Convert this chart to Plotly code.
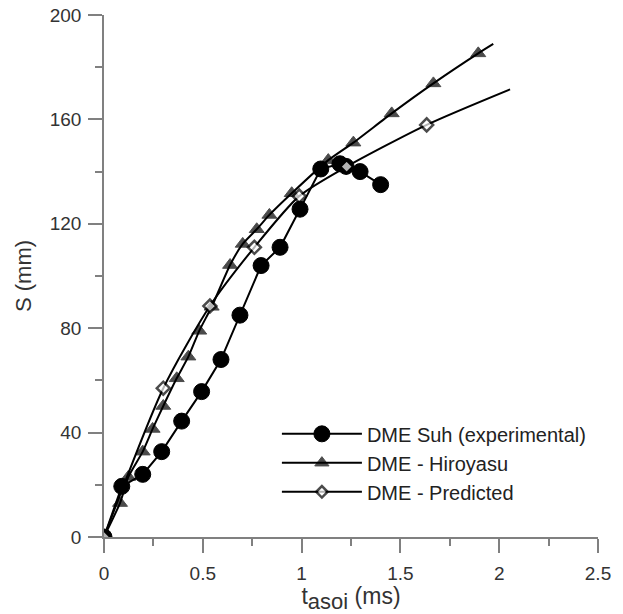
import plotly.graph_objects as go

# Data
suh_x = [0, 0.09, 0.196, 0.292, 0.393, 0.494, 0.592, 0.688, 0.795, 0.891, 0.992, 1.097, 1.194, 1.225, 1.296, 1.40]
suh_y = [0, 19.4, 24.0, 32.7, 44.4, 55.7, 68.0, 85.0, 104.0, 111.0, 125.6, 141.0, 143.0, 142.0, 140.0, 135.0]

hiro_x = [0, 0.081, 0.123, 0.196, 0.246, 0.30, 0.368, 0.427, 0.482, 0.545, 0.638, 0.702, 0.773, 0.837,
          0.95, 1.135, 1.262, 1.456, 1.667, 1.894, 1.97]
hiro_y = [0, 13.0, 23.0, 32.7, 41.4, 50.2, 60.8, 69.1, 79.0, 88.2, 104.2, 112.3, 117.9, 123.4,
          131.7, 144.4, 151.1, 162.3, 173.8, 185.3, 188.9]

pred_x = [0, 0.30, 0.536, 0.761, 0.988, 1.228, 1.633, 2.055]
pred_y = [0, 57.0, 88.5, 111.0, 130.6, 141.9, 157.9, 171.5]

x_ticks = [0, 0.5, 1, 1.5, 2, 2.5]
x_tick_labels = ["0", "0.5", "1", "1.5", "2", "2.5"]
y_ticks = [0, 40, 80, 120, 160, 200]

hiro_sizes = [13] * (len(hiro_x) - 1) + [0]
pred_sizes = [10] * (len(pred_x) - 1) + [0]

FONT = "Liberation Sans, Arial"

fig = go.Figure()
fig.add_trace(go.Scatter(
    x=suh_x, y=suh_y, mode="lines+markers", name="DME Suh (experimental)",
    line=dict(color="black", width=2),
    marker=dict(symbol="circle", size=16, color="black", line=dict(color="black", width=1)),
))
fig.add_trace(go.Scatter(
    x=hiro_x, y=hiro_y, mode="lines+markers", name="DME - Hiroyasu",
    line=dict(color="black", width=2, shape="spline", smoothing=0.5),
    marker=dict(symbol="triangle-up", size=hiro_sizes, color="black", line=dict(color="black", width=1)),
))
fig.add_trace(go.Scatter(
    x=pred_x, y=pred_y, mode="lines+markers", name="DME - Predicted",
    line=dict(color="black", width=2, shape="spline", smoothing=0.7),
    marker=dict(symbol="diamond", size=pred_sizes, color="white",
                line=dict(color="black", width=2.5)),
))

axis_common = dict(
    showline=True, linecolor="#808080", linewidth=1.5,
    ticks="outside", ticklen=14, tickwidth=1.5, tickcolor="#808080",
    showgrid=False, zeroline=False, automargin=False,
    tickfont=dict(family=FONT, size=19, color="#333333"),
)

x_title = ("<span style=\"font-size:23px\">t</span>"
           "<sub><span style=\"font-size:22px\">asoi</span></sub>"
           "<span style=\"font-size:23px\"> (ms)</span>")

fig.update_xaxes(
    range=[0, 2.5], tickvals=x_ticks, ticktext=x_tick_labels,
    minor=dict(dtick=0.25, ticks="outside", ticklen=7, tickcolor="#808080", tickwidth=1.5),
    title=dict(text=x_title, font=dict(family=FONT, size=23, color="#333333"), standoff=0),
    ticklabelstandoff=4,
    **axis_common,
)
fig.update_yaxes(
    range=[0, 200], tickvals=y_ticks,
    minor=dict(dtick=20, ticks="outside", ticklen=7, tickcolor="#808080", tickwidth=1.5),
    title=dict(text="S (mm)", font=dict(family=FONT, size=22, color="#333333"), standoff=12),
    ticklabelstandoff=3,
    **axis_common,
)

fig.update_layout(
    width=623, height=614,
    margin=dict(l=104, r=25, t=15, b=77),
    plot_bgcolor="white", paper_bgcolor="white",
    showlegend=True,
    legend=dict(
        x=0.35, y=0.235, xanchor="left", yanchor="top",
        font=dict(family=FONT, size=20, color="#222222"),
        bgcolor="rgba(0,0,0,0)", itemwidth=80, tracegroupgap=0,
    ),
)

fig.write_html("out.html")
